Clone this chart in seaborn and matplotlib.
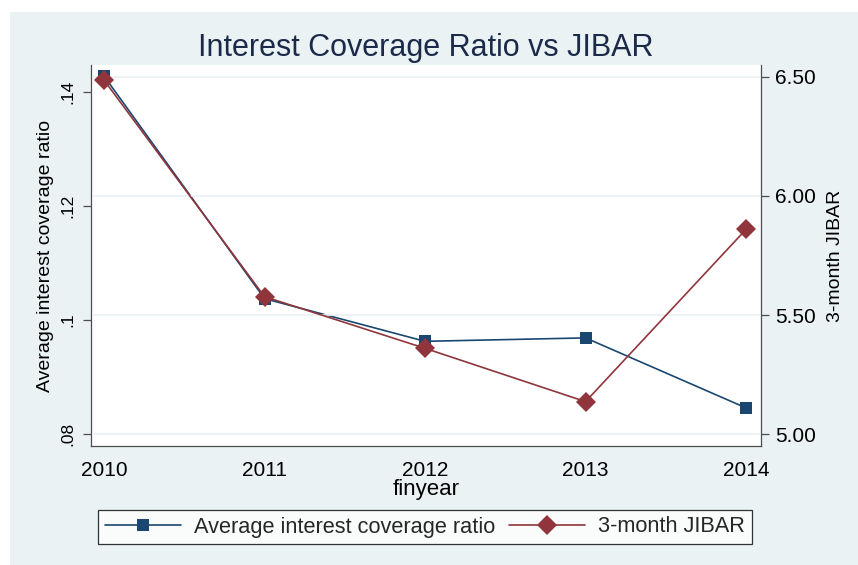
import matplotlib
matplotlib.use("Agg")
import matplotlib.pyplot as plt
from matplotlib.patches import Rectangle
from matplotlib.lines import Line2D
import seaborn as sns
import pandas as pd

# ---- data ----
years = [2010, 2011, 2012, 2013, 2014]
icr = [0.1428, 0.1037, 0.0962, 0.0968, 0.0845]
jibar = [6.487, 5.577, 5.360, 5.136, 5.860]
left_ticks = [0.08, 0.10, 0.12, 0.14]
left_labels = [".08", ".1", ".12", ".14"]
right_ticks = [5.00, 5.50, 6.00, 6.50]
right_labels = ["5.00", "5.50", "6.00", "6.50"]

title = "Interest Coverage Ratio vs JIBAR"
xlabel = "finyear"
ylabel_left = "Average interest coverage ratio"
ylabel_right = "3-month JIBAR"

df = pd.DataFrame({"finyear": years, "icr": icr, "jibar": jibar})

sns.set_theme(style="white")
plt.rcParams["font.family"] = ["Liberation Sans", "DejaVu Sans"]

W, H = 858, 565
fig = plt.figure(figsize=(W / 100, H / 100), dpi=100)
fig.patch.set_facecolor("white")
bg = "#eaf2f3"
fig.patches.append(Rectangle((10 / W, 0), 1 - 10 / W, 1 - 12 / H,
                             transform=fig.transFigure, facecolor=bg,
                             edgecolor="none", zorder=-10))

navy = "#1a476f"
maroon = "#90353b"
axcol = "#4d4d4d"

ax = fig.add_axes([91 / W, 1 - 446 / H, 670 / W, (446 - 65) / H])
ax.set_facecolor("white")
ax2 = ax.twinx()

# grid lines at right-axis ticks
for t in right_ticks:
    ax2.axhline(t, xmin=0.003, xmax=0.997, color=bg, lw=1.3, zorder=0)

sns.lineplot(data=df, x="finyear", y="icr", ax=ax, color=navy, marker="s",
             markersize=9, markeredgewidth=0, lw=1.2, label=ylabel_left,
             legend=False)
sns.lineplot(data=df, x="finyear", y="jibar", ax=ax2, color=maroon, marker="D",
             markersize=10, markeredgewidth=0, lw=1.2, label=ylabel_right,
             legend=False)

ax.set_xlim(2009.919, 2014.093)
ax.set_ylim(0.07781, 0.14474)
ax2.set_ylim(4.9496, 6.5504)

ax.set_xticks(years)
ax.set_xticklabels([str(y) for y in years], fontsize=15)
ax.set_yticks(left_ticks)
ax.set_yticklabels(left_labels, fontsize=12.5, rotation=90, va="center")
ax2.set_yticks(right_ticks)
ax2.set_yticklabels(right_labels, fontsize=15)

for a in (ax, ax2):
    a.tick_params(axis="both", direction="out", length=6, width=0.9,
                  color=axcol, labelcolor="black")
    for s in a.spines.values():
        s.set_color(axcol)
        s.set_linewidth(0.9)
    a.spines["top"].set_visible(False)
    a.grid(False)
ax.tick_params(axis="x", pad=5)
ax.tick_params(axis="y", pad=5)
ax2.tick_params(axis="y", pad=4)
ax.spines["right"].set_visible(False)
ax2.spines["left"].set_visible(False)
ax2.spines["bottom"].set_visible(False)

ax.set_xlabel(xlabel, fontsize=16, color="black")
ax.set_ylabel(ylabel_left, fontsize=14, color="black")
ax2.set_ylabel(ylabel_right, fontsize=14, color="black")
ycenter = 1 - (446 + 65) / 2 / H
ax.yaxis.set_label_coords(46 / W, ycenter, transform=fig.transFigure)
ax2.yaxis.set_label_coords(836 / W, ycenter, transform=fig.transFigure)
ax.yaxis.label.set_va("center")
ax2.yaxis.label.set_va("center")
ax.xaxis.set_label_coords(426 / W, 1 - 490 / H, transform=fig.transFigure)
ax.xaxis.label.set_va("center")

fig.text(426 / W, 1 - 48 / H, title, ha="center", va="center",
         fontsize=22, color="#1c2a4a")

handles = [
    Line2D([], [], color=navy, marker="s", markersize=9, markeredgewidth=0, lw=1.2),
    Line2D([], [], color=maroon, marker="D", markersize=10, markeredgewidth=0, lw=1.2),
]
leg = fig.legend(handles, [ylabel_left, ylabel_right], loc="center",
                 bbox_to_anchor=(425 / W, 1 - 527 / H), ncol=2,
                 fontsize=15.7, frameon=True, fancybox=False,
                 handlelength=3.5, handletextpad=0.6, columnspacing=0.6,
                 borderpad=0.3, borderaxespad=0)
leg.get_frame().set_edgecolor("black")
leg.get_frame().set_linewidth(0.9)
leg.get_frame().set_facecolor("white")

fig.savefig("out.png", dpi=100)
